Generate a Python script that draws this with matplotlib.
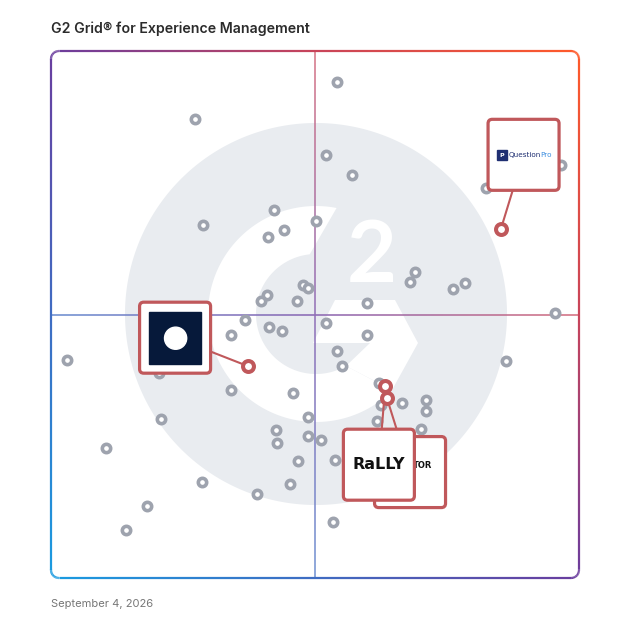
import numpy as np
import matplotlib
matplotlib.use('Agg')
import matplotlib.pyplot as plt
from matplotlib.collections import LineCollection
from matplotlib.colors import LinearSegmentedColormap
from matplotlib.patches import FancyBboxPatch, Rectangle, Circle, Polygon

plt.rcParams['font.family'] = ['Inter', 'DejaVu Sans']

# 产品位置 (x: 市场占有, y: 满意度, 0-100)
product_x = [27.3, 28.8, 42.2, 44.1, 41.1, 50.2, 47.7, 48.7, 40.9, 39.8,
             46.6, 36.7, 54.2, 52.1, 57.0, 82.4, 96.6, 68.9, 68.0, 78.4,
             76.1, 59.8, 95.5, 3.0, 34.1, 41.3, 43.8, 20.5, 34.1, 45.8,
             48.7, 42.6, 48.7, 42.8, 46.8, 20.8, 10.4, 28.6, 45.3, 39.0,
             18.2, 14.2, 52.1, 59.8, 54.2, 55.1, 86.2, 62.1, 62.5, 66.5,
             71.0, 71.0, 61.7, 70.1, 51.1, 53.8, 53.4]
product_y = [87.1, 67.0, 69.8, 66.0, 64.7, 67.7, 55.6, 55.0, 53.7, 52.6,
             52.6, 49.0, 94.1, 80.3, 76.5, 74.0, 78.4, 58.1, 56.2, 56.0,
             54.8, 52.2, 50.3, 41.4, 46.1, 47.6, 46.9, 38.9, 35.7, 35.1,
             30.6, 28.1, 26.9, 25.6, 22.2, 30.2, 24.7, 18.2, 17.8, 15.9,
             13.7, 9.1, 48.4, 46.1, 43.1, 40.2, 41.2, 37.0, 32.8, 33.2,
             33.8, 31.7, 29.8, 28.3, 26.2, 22.4, 10.6]

# 高亮的产品
featured_names = ['QuestionPro', 'Square', 'Creator', 'Rally']
featured_x = [85.2, 37.3, 63.6, 63.3]
featured_y = [66.2, 40.2, 34.2, 36.4]
# 标签框相对点的偏移
label_dx = [4.3, -13.8, 4.4, -1.2]
label_dy = [14.1, 5.4, -14.1, -14.9]

title = 'G2 Grid® for Experience Management'
date_text = 'September 4, 2026'

RED = '#c0585b'
GRAY = '#9ea3ae'
BG = '#e9ecf0'


def px2d(x, y):
    # 像素 -> 数据坐标 (只用于背景装饰)
    return (np.asarray(x) - 51) / 5.28, (578 - np.asarray(y)) / 5.27


def arc(cx, cy, r, a0, a1, n=120):
    t = np.radians(np.linspace(a0, a1, n))
    return cx + r * np.cos(t), cy - r * np.sin(t)


fig = plt.figure(figsize=(6.28, 6.28), dpi=100)
ax = fig.add_axes([51 / 628, 50 / 628, 528 / 628, 527 / 628])
ax.set_xlim(0, 100)
ax.set_ylim(0, 100)
ax.axis('off')

# 背景 G2 标志
bx, by = arc(316, 314, 191, 0, 360, 300)
ax.add_patch(Polygon(np.column_stack(px2d(bx, by)), closed=True, color=BG, lw=0, zorder=0))
ox, oy = arc(316, 314, 108, 79, 315)
ix, iy = arc(316, 314, 60, 300, 96)
ring = np.column_stack(px2d(np.r_[ox, ix], np.r_[oy, iy]))
ax.add_patch(Polygon(ring, closed=True, color='white', lw=0, zorder=0.5))
chev_x = [335, 395, 418, 392, 346, 370, 313]
chev_y = [300, 300, 343, 390, 366, 343, 343]
ax.add_patch(Polygon(np.column_stack(px2d(chev_x, chev_y)), closed=True,
                     color='white', lw=0, zorder=0.5))
tx, ty = px2d(372, 282)
ax.text(tx, ty, '2', fontsize=62, fontweight='bold', family='Lato', color='white',
        ha='center', va='baseline', zorder=0.5)

# 渐变色
cmap = LinearSegmentedColormap.from_list(
    'g2', ['#1a9be0', '#3f6cc2', '#6a3d9e', '#c8445a', '#ff5a2a'])


def gradient_line(pts, lw, fade, z):
    segs = np.stack([pts[:-1], pts[1:]], axis=1)
    mid = segs.mean(axis=1)
    cols = cmap((mid[:, 0] + mid[:, 1]) / 200)
    # 和白色混合, 代替 alpha (避免重叠变深)
    cols[:, :3] = cols[:, :3] * (1 - fade) + fade
    lc = LineCollection(segs, colors=cols, linewidths=lw,
                        capstyle='butt', joinstyle='round', zorder=z, clip_on=False)
    ax.add_collection(lc)


def densify(pts, n=2000):
    d = np.r_[0, np.cumsum(np.hypot(*np.diff(pts, axis=0).T))]
    s = np.linspace(0, d[-1], n)
    return np.column_stack([np.interp(s, d, pts[:, 0]), np.interp(s, d, pts[:, 1])])


# 外框 (圆角)
r = 1.5
parts = []
for cx, cy, a in [(100 - r, 100 - r, 0), (r, 100 - r, 90), (r, r, 180), (100 - r, r, 270)]:
    t = np.radians(np.linspace(a, a + 90, 20))
    parts.append(np.column_stack([cx + r * np.cos(t), cy + r * np.sin(t)]))
parts.append(parts[0][:1])
frame = densify(np.vstack(parts))
gradient_line(frame, 1.6, 0.0, 2)

# 中心线
gradient_line(densify(np.array([[0, 50], [100, 50]]), 300), 1.1, 0.2, 1)
gradient_line(densify(np.array([[50, 0], [50, 100]]), 300), 1.1, 0.25, 1)

# 普通产品
ax.scatter(product_x, product_y, s=36, facecolors='white', edgecolors=GRAY,
           linewidths=2.6, zorder=3)

# 高亮产品 + 标签框
hw, hh = 35.5 / 5.28, 35.5 / 5.27
for i, name in enumerate(featured_names):
    x, y = featured_x[i], featured_y[i]
    lx, ly = x + label_dx[i], y + label_dy[i]
    z = 5 + i
    ax.plot([x, lx], [y, ly], color=RED, lw=1.5, zorder=4)
    ax.add_patch(FancyBboxPatch((lx - hw, ly - hh), 2 * hw, 2 * hh,
                                boxstyle='round,pad=0,rounding_size=0.8',
                                fc='white', ec=RED, lw=2.3, zorder=z))
    if name == 'QuestionPro':
        ax.add_patch(Rectangle((lx - 5.0, ly - 1.0), 1.9, 1.9, color='#1f2f72', zorder=z + 0.1))
        ax.text(lx - 4.05, ly - 0.05, 'P', fontsize=4.5, color='white', fontweight='bold',
                ha='center', va='center', zorder=z + 0.2, family='DejaVu Sans')
        t1 = ax.text(lx - 2.9, ly, 'Question', fontsize=5.2, color='#1f2f72',
                     ha='left', va='center', zorder=z + 0.2, family='DejaVu Sans')
        ax.annotate('Pro', xy=(1, 0.5), xycoords=t1, fontsize=5.2, color='#3d8fe0',
                    ha='left', va='center', zorder=z + 0.2, family='DejaVu Sans')
    elif name == 'Square':
        ax.add_patch(Rectangle((lx - 4.92, ly - 4.92), 9.84, 9.84, color='#06193a', zorder=z + 0.1))
        ax.add_patch(Circle((lx + 0.1, ly - 0.1), 2.1, color='white', zorder=z + 0.2))
    elif name == 'Creator':
        ax.text(lx + 4.2, ly + 1.2, 'TOR', fontsize=6, fontweight='bold', color='#111111',
                ha='right', va='center', zorder=z + 0.2, family='DejaVu Sans')
    elif name == 'Rally':
        ax.text(lx, ly, 'RaLLY', fontsize=11.5, fontweight='heavy', color='#111111',
                ha='center', va='center', zorder=z + 0.2, family='DejaVu Sans')

ax.scatter(featured_x, featured_y, s=62, facecolors='white', edgecolors=RED,
           linewidths=2.9, zorder=20)

# 标题和日期
fig.text(51 / 628, 1 - 29 / 628, title, fontsize=10.2, fontweight='semibold',
         color='#2b2b2b', va='center')
fig.text(51 / 628, 1 - 604 / 628, date_text, fontsize=8, color='#767676', va='center')

fig.savefig('out.png', dpi=100)
